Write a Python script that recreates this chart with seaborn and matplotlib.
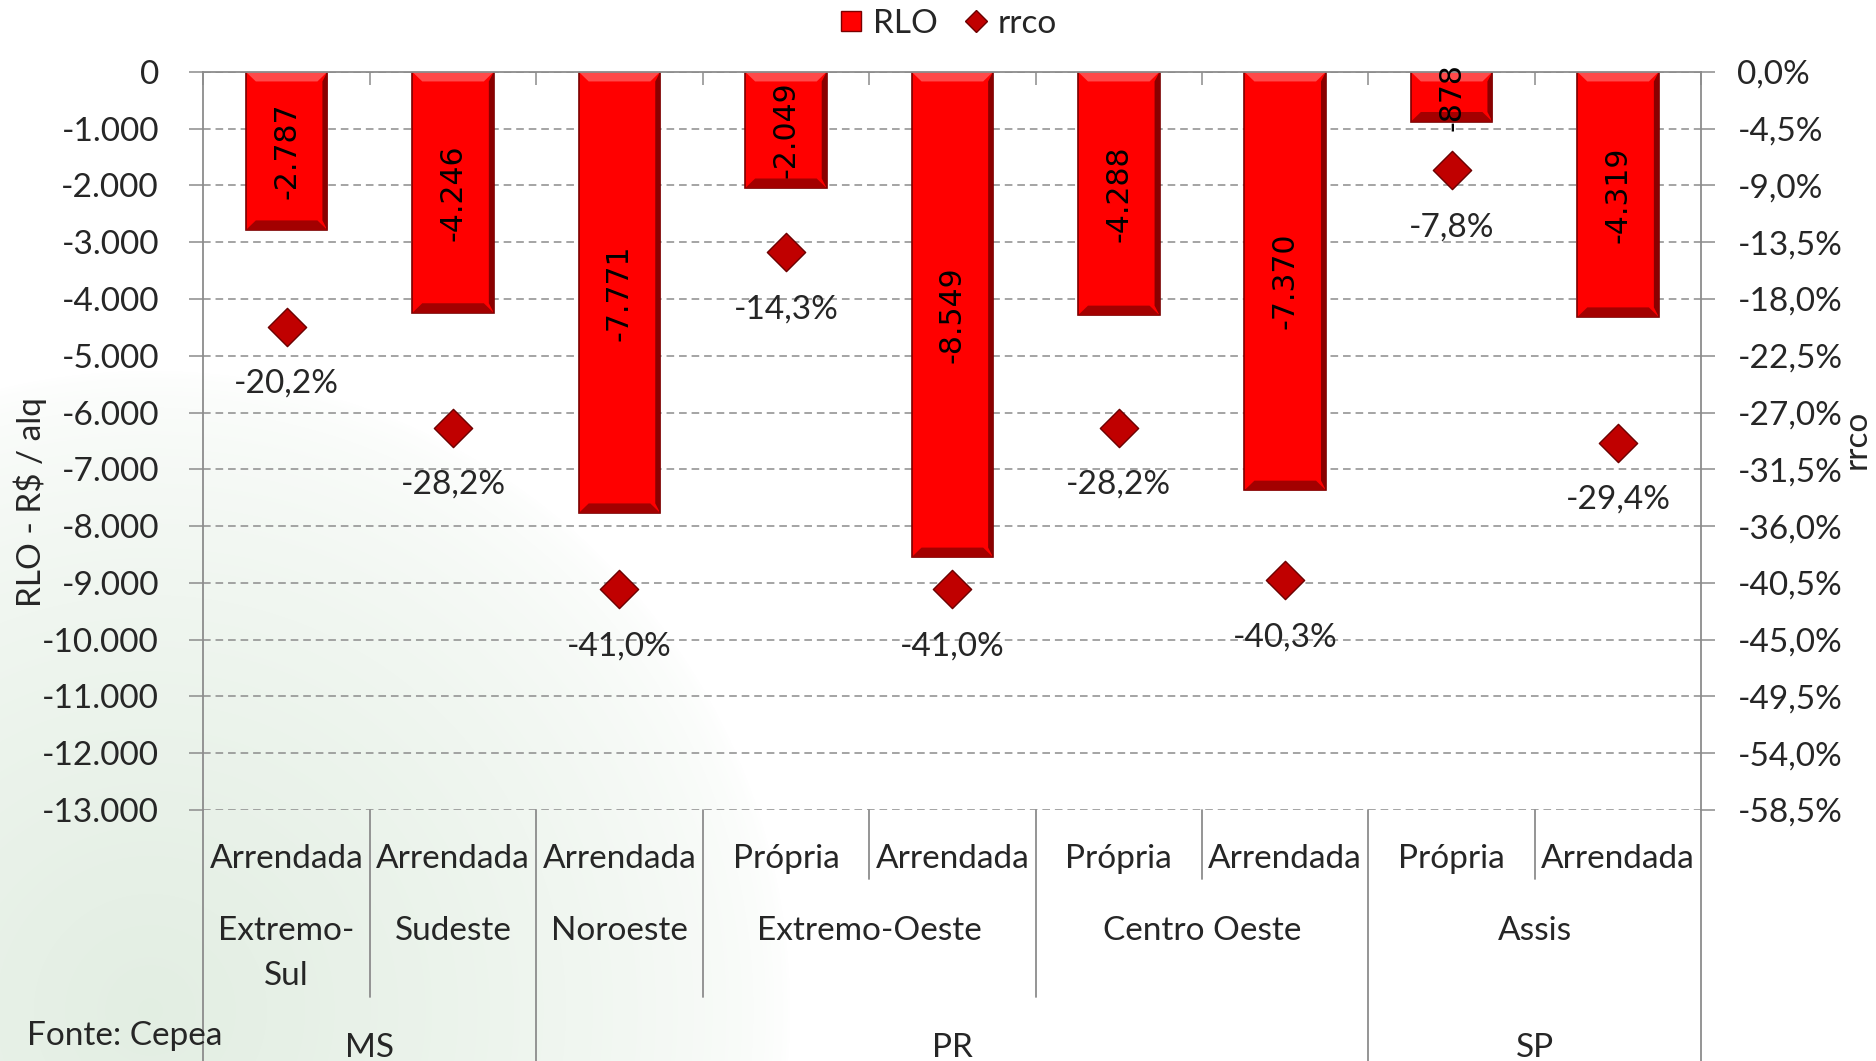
import numpy as np
import pandas as pd
import matplotlib.pyplot as plt
import seaborn as sns
from matplotlib.lines import Line2D
from matplotlib.patches import Polygon

# Data
estado = ['MS', 'MS', 'PR', 'PR', 'PR', 'PR', 'PR', 'SP', 'SP']
regiao = ['Extremo-\nSul', 'Sudeste', 'Noroeste', 'Extremo-Oeste', 'Extremo-Oeste',
          'Centro Oeste', 'Centro Oeste', 'Assis', 'Assis']
tipo = ['Arrendada', 'Arrendada', 'Arrendada', 'Própria', 'Arrendada',
        'Própria', 'Arrendada', 'Própria', 'Arrendada']
rlo = [-2787, -4246, -7771, -2049, -8549, -4288, -7370, -878, -4319]
rrco = [-20.2, -28.2, -41.0, -14.3, -41.0, -28.2, -40.3, -7.8, -29.4]

rlo_ticks = list(range(-13000, 1, 1000))
rrco_ticks = list(np.linspace(-58.5, 0, 14))

df = pd.DataFrame({'pos': range(len(rlo)), 'rlo': rlo, 'rrco': rrco})


def fmt_milhar(v):
    return f"{v:,}".replace(',', '.')


def fmt_pct(v):
    return f"{v:.1f}%".replace('.', ',')


sns.set_style('white')
plt.rcParams['font.family'] = ['Lato', 'DejaVu Sans']

W, H = 1876, 1061
fig = plt.figure(figsize=(W / 100, H / 100), dpi=100)

# faint green globe watermark in the background
bg = fig.add_axes([0, 0, 1, 1], zorder=0)
yy, xx = np.mgrid[0:H, 0:W]
d = np.hypot(xx - 150, yy - 1010)
r = 640
img = np.zeros((H, W, 4))
img[..., 0], img[..., 1], img[..., 2] = 0.78, 0.87, 0.78
img[..., 3] = np.where(d < r, 0.5 * np.clip(1 - d / r, 0, 1) ** 0.6, 0)
bg.imshow(img, extent=[0, W, H, 0], aspect='auto')
bg.axis('off')

gray = '#8c8c8c'
ax = fig.add_axes([203.4 / W, 1 - 810 / H, (1701.3 - 203.4) / W, (810 - 71.8) / H], zorder=2)
ax.set_facecolor('none')

sns.barplot(data=df, x='pos', y='rlo', ax=ax, color='#FF0000', saturation=1,
            width=0.49, edgecolor='#7a0000', linewidth=1.2, zorder=2)
ax.set_xlim(-0.5, 8.5)
ax.set_ylim(-13000, 0)

# bevel look on the bars (light top band, dark bottom band, shaded right side)
bx, by = 0.06, 170
for p in list(ax.patches):
    x0, w, y0, h = p.get_x(), p.get_width(), p.get_y(), p.get_height()
    y1 = y0 + h
    top, bot = max(y0, y1), min(y0, y1)
    ax.add_patch(Polygon([(x0, top), (x0 + w, top), (x0 + w - bx, top - by), (x0 + bx, top - by)],
                         closed=True, color='#ff4a4a', lw=0, zorder=2.1))
    ax.add_patch(Polygon([(x0, bot), (x0 + w, bot), (x0 + w - bx, bot + by), (x0 + bx, bot + by)],
                         closed=True, color='#a30000', lw=0, zorder=2.1))
    ax.add_patch(Polygon([(x0 + w, top), (x0 + w, bot), (x0 + w - bx / 2, bot + by), (x0 + w - bx / 2, top - by)],
                         closed=True, color='#8a0000', lw=0, zorder=2.1))

ax.set_yticks(rlo_ticks)
ax.set_yticklabels([fmt_milhar(v) for v in rlo_ticks])
ax.set_axisbelow(True)
ax.yaxis.grid(True, color=gray, linestyle=(0, (5, 3.2)), linewidth=1.1)
ax.set_xlabel('')
ax.set_ylabel('')
ax.tick_params(axis='y', left=True, length=10, width=1.1, color=gray, pad=22, labelsize=24)
ax.tick_params(axis='x', which='major', length=0, labelbottom=False)
ax.set_xticks([i + 0.5 for i in range(-1, 9)], minor=True)
ax.tick_params(axis='x', which='minor', bottom=False, top=True, direction='in',
               length=9, width=1.1, color=gray)
for s in ['top', 'left', 'right']:
    ax.spines[s].set_color(gray)
    ax.spines[s].set_linewidth(1.3)
ax.spines['bottom'].set_visible(False)

# value labels in the bars
for i, v in enumerate(rlo):
    ax.text(i, v / 2, fmt_milhar(v), rotation=90, ha='center', va='center',
            fontsize=21.5, family='DejaVu Sans', color='black', zorder=5)

ax2 = ax.twinx()
sns.scatterplot(data=df, x='pos', y='rrco', ax=ax2, marker='D', s=380,
                color='#C00000', edgecolor='#6b0000', linewidth=1, zorder=4)
ax2.set_xlim(-0.5, 8.5)
ax2.set_ylim(-58.5, 0)
ax2.set_yticks(rrco_ticks)
ax2.set_yticklabels([fmt_pct(v) for v in rrco_ticks])
ax2.tick_params(axis='y', right=True, length=10, width=1.1, color=gray, pad=16, labelsize=24)
ax2.set_xlabel('')
ax2.set_ylabel('')
for s in ax2.spines.values():
    s.set_visible(False)
for i, v in enumerate(rrco):
    ax2.annotate(fmt_pct(v), (i, v), xytext=(0, -41), textcoords='offset points',
                 ha='center', va='center', fontsize=24)

# multi-level category axis
tr = ax.get_xaxis_transform()
px = 810 - 71.8


def ya(ypix):
    return (810 - ypix) / px


for i, t in enumerate(tipo):
    ax.text(i, ya(859), t, ha='center', va='center', fontsize=24, transform=tr)


def runs(keys):
    out = []
    start = 0
    for i in range(1, len(keys) + 1):
        if i == len(keys) or keys[i] != keys[start]:
            out.append((start, i - 1, keys[start]))
            start = i
    return out


reg_keys = [e + '|' + r_ for e, r_ in zip(estado, regiao)]
for a, b, k in runs(reg_keys):
    for j, line in enumerate(k.split('|')[1].split('\n')):
        ax.text((a + b) / 2, ya(931 + 45 * j), line, ha='center', va='center',
                fontsize=24, transform=tr)
for a, b, k in runs(estado):
    ax.text((a + b) / 2, ya(1048), k, ha='center', va='center', fontsize=24, transform=tr)

for i in range(-1, 9):
    x = i + 0.5
    if i < 0 or i >= 8 or estado[i] != estado[i + 1]:
        y_end = ya(H)
    elif regiao[i] != regiao[i + 1]:
        y_end = ya(997)
    else:
        y_end = ya(879)
    ax.plot([x, x], [0, y_end], transform=tr, color=gray, lw=1.3, clip_on=False)

fig.text(30 / W, 1 - 502 / H, 'RLO - R$ / alq', rotation=90, ha='center', va='center', fontsize=24)
fig.text(1857 / W, 1 - 439 / H, 'rrco', rotation=90, ha='center', va='center', fontsize=24)
fig.text(27 / W, 1 - 1036 / H, 'Fonte: Cepea', ha='left', va='center', fontsize=24)

handles = [Line2D([], [], marker='s', ls='', color='#FF0000', markeredgecolor='#7a0000', markersize=15),
           Line2D([], [], marker='D', ls='', color='#C00000', markeredgecolor='#6b0000', markersize=11)]
fig.legend(handles, ['RLO', 'rrco'], loc='center', bbox_to_anchor=(948 / W, 1 - 24 / H), ncol=2,
           frameon=False, fontsize=24, handlelength=0.7, handletextpad=0.3, columnspacing=0.8)

fig.savefig('out.png', dpi=100)
